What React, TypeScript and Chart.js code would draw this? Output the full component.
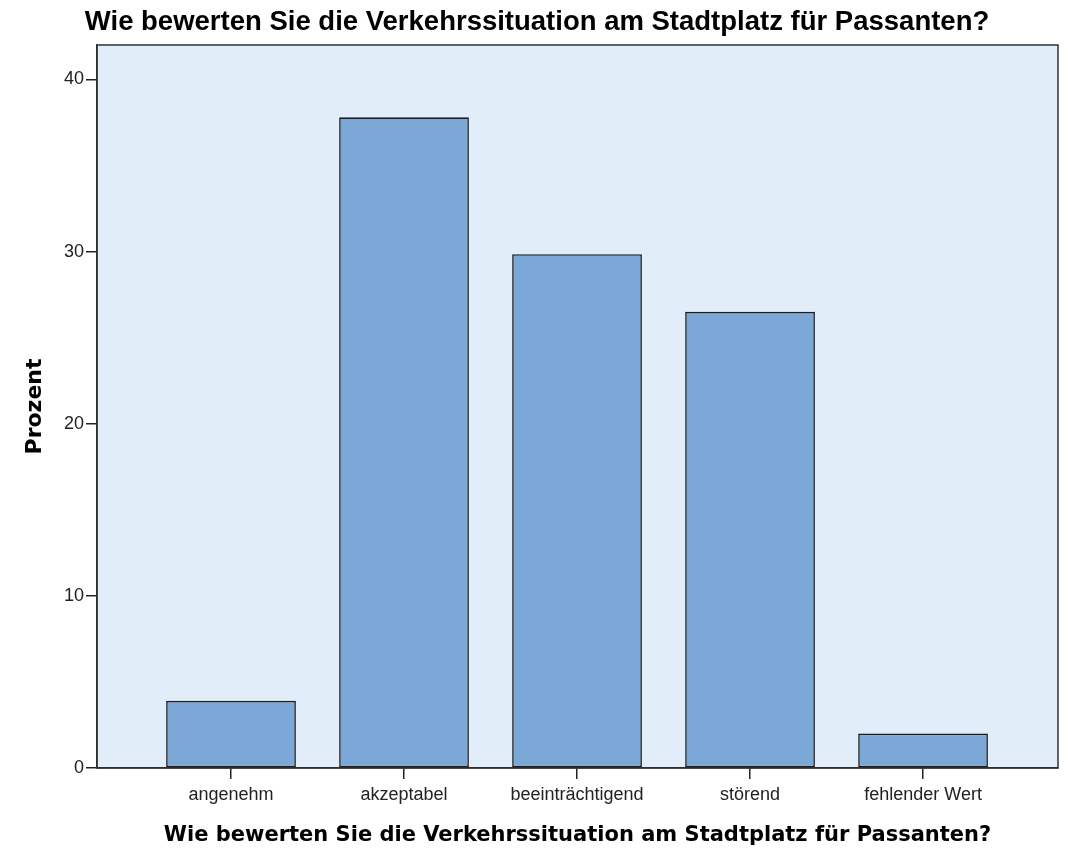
import React, { useEffect, useRef } from "react";
import { Chart, registerables } from "chart.js";

Chart.register(...registerables);

const categories = ["angenehm", "akzeptabel", "beeinträchtigend", "störend", "fehlender Wert"];
const percentValues = [3.9, 37.8, 29.85, 26.5, 2.0];
const yTicks = [0, 10, 20, 30, 40];
const chartTitle = "Wie bewerten Sie die Verkehrssituation am Stadtplatz für Passanten?";
const xTitle = "Wie bewerten Sie die Verkehrssituation am Stadtplatz für Passanten?";
const yTitle = "Prozent";

const plotBgPlugin = {
  id: "plotBg",
  beforeDraw(chart: any) {
    const { ctx, chartArea } = chart;
    ctx.save();
    ctx.fillStyle = "#E2EDFA";
    ctx.fillRect(chartArea.left, chartArea.top, chartArea.right - chartArea.left, chartArea.bottom - chartArea.top);
    ctx.restore();
  },
  afterDraw(chart: any) {
    const { ctx, chartArea } = chart;
    ctx.save();
    ctx.strokeStyle = "#333333";
    ctx.lineWidth = 1.5;
    ctx.strokeRect(chartArea.left, chartArea.top, chartArea.right - chartArea.left, chartArea.bottom - chartArea.top);
    ctx.restore();
  },
};

export default function App() {
  const ref = useRef<HTMLCanvasElement | null>(null);
  useEffect(() => {
    if (!ref.current) return;
    const chart = new Chart(ref.current, {
      type: "bar",
      data: {
        datasets: [
          {
            data: percentValues.map((v, i) => ({ x: i + 1, y: v })),
            backgroundColor: "#7BA8D6",
            borderColor: "#1E1E1E",
            borderWidth: 1.6,
            borderSkipped: false,
            barPercentage: 0.75,
            categoryPercentage: 1,
          },
        ],
      },
      options: {
        responsive: false,
        animation: false,
        layout: { padding: { left: 16, right: 10, top: 0, bottom: 0 } },
        plugins: {
          legend: { display: false },
          tooltip: { enabled: false },
          title: {
            display: true,
            text: chartTitle,
            color: "#000",
            font: { family: "Liberation Sans", size: 27.5, weight: "bold", lineHeight: 1.2 },
            padding: { top: 6, bottom: 6 },
          },
        },
        scales: {
          x: {
            type: "linear",
            offset: false,
            min: 0.2254,
            max: 5.78,
            afterBuildTicks: (scale: any) => {
              scale.ticks = categories.map((_, i) => ({ value: i + 1 }));
            },
            afterFit: (scale: any) => {
              scale.height = 82;
            },
            grid: { offset: false, drawOnChartArea: false, drawTicks: true, tickLength: 11, color: "#222", lineWidth: 1.5 },
            border: { display: true, color: "#222", width: 1.5 },
            ticks: {
              autoSkip: false,
              maxRotation: 0,
              padding: 5,
              color: "#222",
              font: { family: "Liberation Sans", size: 18 },
              callback: (v: any) => categories[Math.round(v) - 1] ?? "",
            },
            title: {
              display: true,
              text: xTitle,
              color: "#000",
              font: { family: "DejaVu Sans", size: 21, weight: "bold", lineHeight: 1.2 },
              padding: { top: 2, bottom: 2 },
            },
          },
          y: {
            type: "linear",
            min: 0,
            max: 42.0,
            afterBuildTicks: (scale: any) => {
              scale.ticks = yTicks.map((v) => ({ value: v }));
            },
            afterFit: (scale: any) => {
              scale.width = 81;
            },
            grid: { drawOnChartArea: false, drawTicks: true, tickLength: 11, color: "#222", lineWidth: 1.5 },
            border: { display: true, color: "#222", width: 1.5 },
            ticks: {
              padding: 2,
              color: "#222",
              font: { family: "Liberation Sans", size: 18 },
            },
            title: {
              display: true,
              text: yTitle,
              color: "#000",
              font: { family: "DejaVu Sans", size: 22, weight: "bold", lineHeight: 1.2 },
              padding: { top: 6, bottom: 0 },
            },
          },
        },
      },
      plugins: [plotBgPlugin],
    });
    return () => chart.destroy();
  }, []);
  return (
    <canvas
      ref={ref}
      width={1068}
      height={850}
      style={{ position: "absolute", left: 0, top: 0, display: "block", background: "#fff" }}
    />
  );
}
